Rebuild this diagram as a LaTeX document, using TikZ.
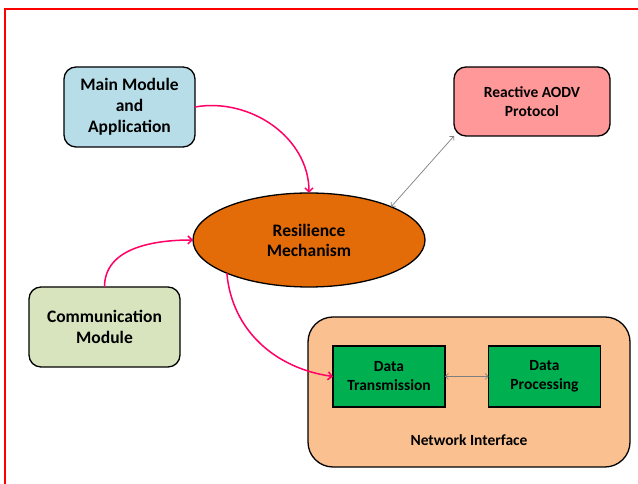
\documentclass[tikz,border=0pt]{standalone}
\usepackage{fontspec}
\setmainfont{Carlito}
\usetikzlibrary{arrows.meta,shapes.geometric}
\definecolor{cmain}{HTML}{B7DEE8}
\definecolor{caodv}{HTML}{FF9999}
\definecolor{cres}{HTML}{E36C09}
\definecolor{ccomm}{HTML}{D7E4BD}
\definecolor{cnet}{HTML}{FAC090}
\definecolor{cdata}{HTML}{00B050}
\definecolor{cmag}{HTML}{FF0066}
\definecolor{cgray}{HTML}{7F7F7F}
\tikzset{
  box/.style={draw=black, line width=1.3pt, rounded corners=12pt, inner sep=0pt, outer sep=0pt, align=center, font=\bfseries\fontsize{17.5}{21}\selectfont},
  databox/.style={draw=black, line width=1.3pt, fill=cdata, inner sep=0pt, outer sep=0pt, align=center, minimum width=112pt, minimum height=61pt, font=\bfseries\fontsize{15.5}{19}\selectfont},
  magarrow/.style={draw=cmag, line width=1.5pt, -{Straight Barb[length=4pt,width=8pt]}},
  grayarrow/.style={draw=cgray, line width=0.7pt, {Straight Barb[length=3pt,width=6pt]}-{Straight Barb[length=3pt,width=6pt]}}
}
\begin{document}
\begin{tikzpicture}[x=1pt,y=1pt]
\useasboundingbox (0,0) rectangle (638,484);
\draw[red, line width=1.6pt] (5,0) -- (5,475) -- (638,475);
\node[box, fill=cmain, minimum width=131pt, minimum height=80pt] (main) at (129.5,377) {Main Module\\and\\Application};
\node[box, fill=caodv, minimum width=156pt, minimum height=69pt, font=\bfseries\fontsize{15.5}{19}\selectfont] (aodv) at (532,382.5) {Reactive AODV\\Protocol};
\node[ellipse, draw=black, line width=1.3pt, fill=cres, minimum width=232pt, minimum height=94pt, inner sep=0pt, outer sep=0pt, align=center, font=\bfseries\fontsize{17.5}{20}\selectfont] (res) at (309,244) {Resilience\\Mechanism};
\node[box, fill=ccomm, minimum width=151pt, minimum height=80pt] (comm) at (104.5,157) {Communication\\Module};
\node[box, fill=cnet, rounded corners=25pt, minimum width=322pt, minimum height=150pt] (net) at (469,92) {};
\node[font=\bfseries\fontsize{15.5}{19}\selectfont] (netlabel) at (469,44) {Network Interface};
\node[databox] (dt) at (389,107.5) {Data\\Transmission};
\node[databox] (dp) at (544.5,107.5) {Data\\Processing};
\draw[magarrow] (main.east) to[out=10,in=90] (res.north);
\draw[magarrow] (comm.north) to[out=90,in=180] (res.west);
\draw[magarrow] (res.202) to[out=-85,in=172] (dt.west);
\draw[grayarrow] (res.22) -- (aodv.south west);
\draw[grayarrow] (dt.east) -- (dp.west);
\end{tikzpicture}
\end{document}
